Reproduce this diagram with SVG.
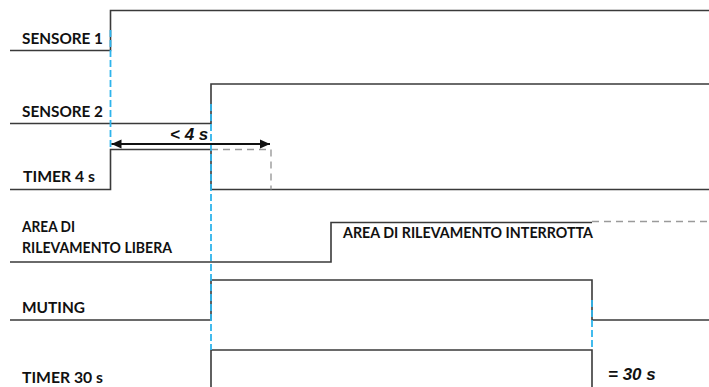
<svg xmlns="http://www.w3.org/2000/svg" width="709" height="387" viewBox="0 0 709 387">
<defs>
<style>
.sig{fill:none;stroke:#3a3a3a;stroke-width:1.6}
.dash{fill:none;stroke:#9a9a9a;stroke-width:1.4;stroke-dasharray:7 5}
.blue{fill:none;stroke:#2fb4ec;stroke-width:1.8;stroke-dasharray:7 3}
.lbl{font-family:Lato,"Liberation Sans",Arial,sans-serif;font-weight:bold;font-size:15px;fill:#111}
.it{font-family:"Liberation Sans",Arial,sans-serif;font-weight:bold;font-style:italic;font-size:17px;fill:#111}
.arr{fill:none;stroke:#111;stroke-width:2}
</style>
<marker id="ah" viewBox="0 0 10 10" refX="10" refY="5" markerWidth="10" markerHeight="10" markerUnits="userSpaceOnUse" orient="auto-start-reverse">
<path d="M0,0.5 L10,5 L0,9.5 z" fill="#111"/>
</marker>
</defs>
<rect width="709" height="387" fill="#fff"/>
<g id="sensore1">
<path class="sig" d="M10,50.5 H110.5 V10.5 H709"/>
<text class="lbl" x="22" y="44" textLength="81" lengthAdjust="spacingAndGlyphs">SENSORE 1</text>
</g>
<g id="sensore2">
<path class="sig" d="M10,123.5 H211 V84 H709"/>
<text class="lbl" x="22" y="117" textLength="81" lengthAdjust="spacingAndGlyphs">SENSORE 2</text>
</g>
<g id="timer4">
<path class="sig" d="M10,189.5 H110.5 V149.5 H211 V189.5 H709"/>
<path class="dash" d="M211,149.5 H271 V189.5"/>
<text class="lbl" x="23" y="182" textLength="72" lengthAdjust="spacingAndGlyphs">TIMER 4 s</text>
</g>
<g id="area">
<path class="sig" d="M10,262 H331 V222.5 H592"/>
<path class="dash" d="M592,221.5 H709"/>
<text class="lbl" x="22" y="232" textLength="53" lengthAdjust="spacingAndGlyphs">AREA DI</text>
<text class="lbl" x="22" y="253" textLength="150" lengthAdjust="spacingAndGlyphs">RILEVAMENTO LIBERA</text>
<text class="lbl" x="343" y="238" textLength="250" lengthAdjust="spacingAndGlyphs">AREA DI RILEVAMENTO INTERROTTA</text>
</g>
<g id="muting">
<path class="sig" d="M10,320 H211 V280 H592 V320 H709"/>
<text class="lbl" x="22" y="313" textLength="63" lengthAdjust="spacingAndGlyphs">MUTING</text>
</g>
<g id="timer30">
<path class="sig" d="M211,387 V350 H592 V387"/>
<text class="lbl" x="22" y="383" textLength="81" lengthAdjust="spacingAndGlyphs">TIMER 30 s</text>
<text class="it" x="608" y="380">= 30 s</text>
</g>
<g id="connectors">
<line class="blue" x1="110.5" y1="30" x2="110.5" y2="150"/>
<line class="blue" x1="211" y1="104" x2="211" y2="350"/>
<line class="blue" x1="592" y1="300" x2="592" y2="350"/>
<line class="arr" x1="111.5" y1="144" x2="270" y2="144" marker-start="url(#ah)" marker-end="url(#ah)"/>
<text class="it" x="170" y="140">&lt; 4 s</text>
</g>
</svg>
